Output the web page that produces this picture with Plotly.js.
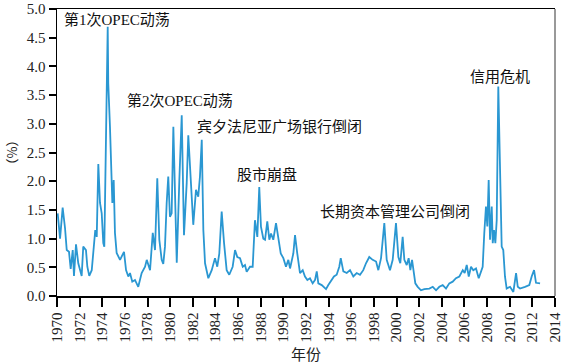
<!DOCTYPE html>
<html>
<head>
<meta charset="utf-8">
<script src="https://cdn.plot.ly/plotly-3.0.1.min.js"></script>
<style>html,body{margin:0;padding:0;background:#fff;}#chart{width:566px;height:364px;}</style>
</head>
<body>
<div id="chart"></div>
<script>
// Time (decimal year) and value (%)
const years = [
  1970.06,1970.27,1970.50,1970.71,1970.86,1971.06,1971.21,1971.39,1971.50,1971.68,1971.88,
  1972.03,1972.18,1972.32,1972.56,1972.68,1972.85,1973.07,1973.27,1973.38,1973.51,1973.65,1973.80,1973.95,
  1974.09,1974.18,1974.48,1974.53,1974.68,1974.83,1974.89,1975.01,1975.12,1975.27,1975.57,1975.92,
  1976.10,1976.30,1976.45,1976.65,1976.89,1977.18,1977.48,1977.78,1977.93,
  1978.22,1978.46,1978.66,1978.86,1979.04,1979.25,1979.39,1979.54,1979.69,1979.83,1979.98,
  1980.13,1980.28,1980.58,1980.81,1981.02,1981.22,1981.46,1981.60,1981.81,
  1982.04,1982.28,1982.48,1982.63,1982.79,1982.93,1983.08,1983.37,1983.67,1983.96,
  1984.16,1984.34,1984.55,1984.76,1984.99,1985.22,1985.52,1985.73,1985.93,
  1986.17,1986.41,1986.61,1986.76,1987.05,1987.29,1987.49,1987.70,1987.87,
  1988.02,1988.23,1988.38,1988.58,1988.76,1988.91,1989.11,1989.35,1989.55,1989.77,
  1990.00,1990.23,1990.44,1990.59,1990.88,1991.03,1991.23,1991.47,1991.71,1991.91,
  1992.12,1992.35,1992.59,1992.80,1992.95,1993.09,1993.39,1993.59,1993.77,1993.97,
  1994.27,1994.47,1994.71,1994.94,1995.07,1995.30,1995.60,1995.89,
  1996.18,1996.48,1996.77,1997.06,1997.30,1997.59,1997.89,
  1998.19,1998.39,1998.63,1998.92,1999.13,1999.42,1999.66,1999.95,
  2000.16,2000.33,2000.54,2000.69,2000.90,2001.07,2001.22,2001.37,2001.52,2001.66,2001.87,
  2002.16,2002.45,2002.90,2003.20,2003.49,2003.78,2004.08,2004.37,2004.66,2004.96,
  2005.25,2005.55,2005.85,2006.02,2006.20,2006.38,2006.58,2006.78,
  2007.02,2007.26,2007.46,2007.61,2007.75,2007.90,2008.02,2008.14,2008.26,2008.41,2008.50,
  2008.61,2008.73,2008.85,2008.99,2009.14,2009.29,2009.43,2009.58,2009.73,
  2010.03,2010.32,2010.56,2010.71,2010.91,2011.35,2011.73,2011.94,2012.15,2012.32,2012.68
];
const values = [
  1.44,1.00,1.54,1.18,0.80,0.77,0.47,0.80,0.35,0.90,0.57,
  0.45,0.35,0.86,0.80,0.51,0.35,0.45,0.98,1.15,1.03,2.30,1.62,1.44,
  0.92,0.86,4.69,3.70,2.95,2.08,1.62,2.02,1.10,0.75,0.63,0.77,
  0.45,0.34,0.40,0.25,0.28,0.16,0.40,0.51,0.63,
  0.45,1.10,0.80,2.05,0.98,0.63,0.56,0.86,1.62,2.08,1.38,
  1.44,2.95,0.58,2.02,3.15,1.06,1.97,2.80,2.08,
  1.24,1.85,1.73,2.08,2.72,1.15,0.57,0.31,0.45,0.66,
  0.51,0.74,1.47,0.92,0.45,0.37,0.51,0.80,0.68,
  0.66,0.51,0.54,0.42,0.51,0.51,1.32,1.03,1.90,
  1.21,1.00,0.98,1.30,0.98,1.09,0.98,1.27,1.03,0.74,
  0.66,0.51,0.63,0.48,0.74,1.06,0.74,0.40,0.45,0.34,
  0.28,0.31,0.22,0.28,0.43,0.22,0.19,0.16,0.12,0.19,
  0.28,0.34,0.37,0.51,0.66,0.43,0.40,0.45,
  0.34,0.40,0.37,0.45,0.57,0.68,0.63,
  0.60,0.45,0.66,1.27,0.63,0.45,0.63,1.27,
  0.68,0.57,1.03,0.63,0.54,0.66,0.45,0.63,0.42,0.22,0.16,
  0.10,0.12,0.13,0.16,0.10,0.16,0.19,0.13,0.22,0.25,
  0.31,0.34,0.45,0.40,0.54,0.34,0.51,0.45,
  0.48,0.31,0.45,0.51,1.09,1.56,1.21,2.02,0.98,1.56,0.92,
  1.15,0.92,1.32,3.65,2.37,0.86,0.80,0.34,0.13,
  0.16,0.07,0.40,0.16,0.13,0.16,0.19,0.34,0.45,0.23,0.22
];
const xTicks = [1970,1972,1974,1976,1978,1980,1982,1984,1986,1988,1990,1992,1994,1996,1998,2000,2002,2004,2006,2008,2010,2012,2014];
const yTicks = [0,0.5,1,1.5,2,2.5,3,3.5,4,4.5,5];
const eventLabels = ['第1次OPEC动荡','第2次OPEC动荡','宾夕法尼亚广场银行倒闭','股市崩盘','长期资本管理公司倒闭','信用危机'];
const eventX = [1970.42,1976.01,1982.19,1985.73,1993.09,2006.29];
const eventY = [4.81,3.41,2.95,2.11,1.47,3.82];

const serif = 'Liberation Serif, Times New Roman, serif';
const cjk = 'Liberation Serif, Noto Sans CJK SC, serif';

const trace = {
  x: years, y: values, type: 'scatter', mode: 'lines',
  line: {color: '#2a97d2', width: 1.8}, hoverinfo: 'skip'
};

const annotations = eventLabels.map((t, i) => ({
  x: eventX[i], y: eventY[i], xref: 'x', yref: 'y', text: t, showarrow: false,
  xanchor: 'left', yanchor: 'middle', font: {family: cjk, size: 15, color: '#111'}
}));

const layout = {
  width: 566, height: 364,
  margin: {l: 57, r: 11, t: 9, b: 68},
  paper_bgcolor: '#fff', plot_bgcolor: '#fff',
  showlegend: false,
  xaxis: {
    range: [1970, 2014], tickvals: xTicks, ticktext: xTicks.map(String),
    tickangle: -90, ticks: 'outside', ticklen: 9, tickwidth: 2, tickcolor: '#000',
    showline: true, linecolor: '#000', linewidth: 1.5, mirror: true,
    showgrid: false, zeroline: false,
    tickfont: {family: serif, size: 15, color: '#222'},
    title: {text: '年份', font: {family: 'Noto Sans CJK SC', size: 15, color: '#222'}, standoff: 4}
  },
  yaxis: {
    range: [0, 5], tickvals: yTicks, tickformat: '.1f',
    ticks: 'outside', ticklen: 7, tickwidth: 2, tickcolor: '#000',
    showline: true, linecolor: '#000', linewidth: 1.5, mirror: false,
    showgrid: false, zeroline: false,
    tickfont: {family: serif, size: 15, color: '#222'},
    title: {text: '（%）', font: {family: 'Noto Sans CJK SC', size: 13, color: '#222'}, standoff: 6}
  },
  shapes: [{type: 'line', xref: 'paper', yref: 'paper', x0: 1, x1: 1, y0: 0, y1: 1,
            line: {color: '#777', width: 1.5}}],
  annotations: annotations
};

Plotly.newPlot('chart', [trace], layout, {staticPlot: true, displayModeBar: false});
</script>
</body>
</html>
